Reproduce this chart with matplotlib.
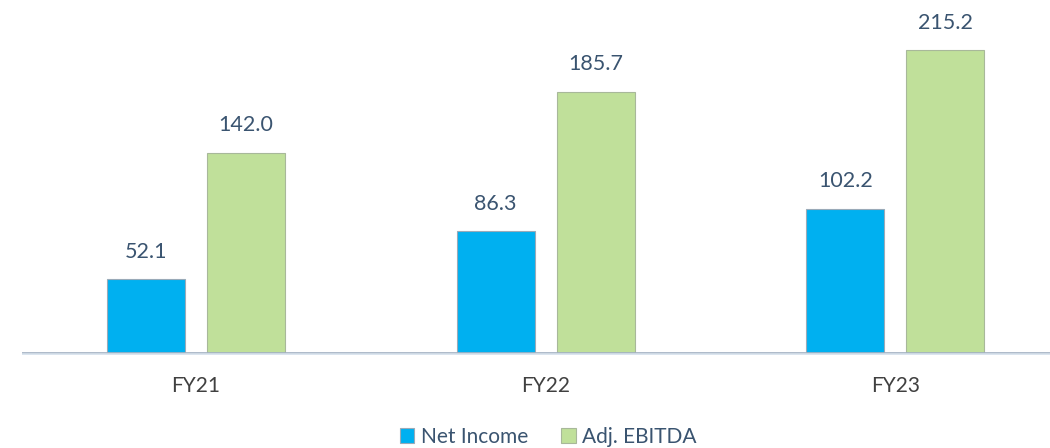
import matplotlib
matplotlib.use('Agg')
from matplotlib import pyplot as plt
import numpy as np

years = ['FY21', 'FY22', 'FY23']
net_income = [52.1, 86.3, 102.2]
adj_ebitda = [142.0, 185.7, 215.2]

BLUE = '#00B0F0'
GREEN = '#C0E09A'
TEXT = '#3A5470'

plt.rcParams['font.family'] = ['Lato', 'DejaVu Sans']

fig = plt.figure(figsize=(10.5, 4.48), dpi=100)
ax = fig.add_axes([0.021, 0.208, 0.979, 0.792])

x = np.arange(len(years))
width = 0.223
off = 0.143
b1 = ax.bar(x - off, net_income, width, color=BLUE, edgecolor='#9aaab8',
            linewidth=0.8, label='Net Income')
b2 = ax.bar(x + off, adj_ebitda, width, color=GREEN, edgecolor='#a8b89a',
            linewidth=0.8, label='Adj. EBITDA')

for bars, vals in ((b1, net_income), (b2, adj_ebitda)):
    for rect, v in zip(bars, vals):
        ax.annotate('{:.1f}'.format(v),
                    (rect.get_x() + rect.get_width() / 2, v), (0, 20),
                    textcoords='offset points', ha='center', va='center',
                    fontsize=15.5, color=TEXT)

ax.set_xlim(-0.498, 2.443)
ax.set_ylim(-1.5, 251)
ax.axhline(-1.0, color='#a3b1c2', lw=3.4, zorder=3)
ax.axhline(-1.0, color='#dbe5ef', lw=1.8, zorder=4)
ax.set_yticks([])
ax.set_xticks(x)
ax.set_xticklabels(years, fontsize=15, color='#404040')
ax.tick_params(bottom=False, pad=12)
for side in ['top', 'bottom', 'right', 'left']:
    ax.spines[side].set_visible(False)

fig.legend(handles=[b1, b2], loc='center', bbox_to_anchor=(0.522, 0.025),
           ncol=2, frameon=False, fontsize=15, handlelength=0.7,
           handleheight=0.7, handletextpad=0.3, columnspacing=1.6,
           labelcolor=TEXT)

fig.savefig('out.png', dpi=100)
